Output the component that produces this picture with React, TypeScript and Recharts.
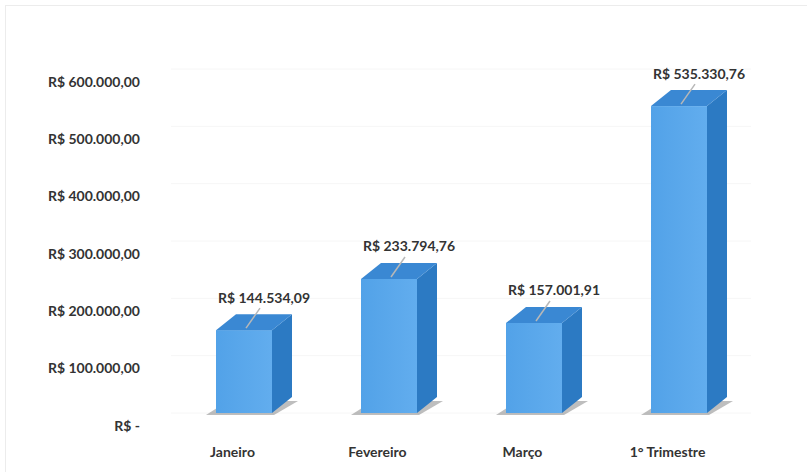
import React from "react";
import { BarChart, Bar, XAxis, YAxis, CartesianGrid, LabelList } from "recharts";

const categories = ["Janeiro", "Fevereiro", "Março", "1° Trimestre"];
const totals = [144534.09, 233794.76, 157001.91, 535330.76];
const yTicks = [0, 100000, 200000, 300000, 400000, 500000, 600000];

const data = categories.map((mes, i) => ({ mes, total: totals[i] }));

const FONT = "Lato, 'Open Sans', sans-serif";
const DX = 20;
const DY = 16;

const brl = (v: number) => {
  if (v === 0) return "R$ -";
  const [int, dec] = v.toFixed(2).split(".");
  return "R$ " + int.replace(/\B(?=(\d{3})+(?!\d))/g, ".") + "," + dec;
};

const Box3D = (props: any) => {
  const { x, y, width: w, height: h } = props;
  const b = y + h;
  return (
    <g>
      <defs>
        <linearGradient id="frontGrad" x1="0" y1="0" x2="1" y2="0">
          <stop offset="0%" stopColor="#52a2e8" />
          <stop offset="100%" stopColor="#62adee" />
        </linearGradient>
      </defs>
      <polygon
        points={`${x - 10},${b + 2} ${x + w + 2},${b + 2} ${x + w + DX + 6},${b - DY + 4} ${x + DX - 8},${b - DY + 4}`}
        fill="#444"
        opacity={0.35}
      />
      <rect x={x} y={y} width={w} height={h} fill="url(#frontGrad)" />
      <polygon
        points={`${x + w},${y} ${x + w + DX},${y - DY} ${x + w + DX},${b - DY} ${x + w},${b}`}
        fill="#2c7ac3"
      />
      <polygon
        points={`${x},${y} ${x + DX},${y - DY} ${x + w + DX},${y - DY} ${x + w},${y}`}
        fill="#3a88d3"
      />
    </g>
  );
};

const ValueLabel = (props: any) => {
  const { x, y, width, value } = props;
  const cx = x + width / 2;
  return (
    <g>
      <line x1={cx + 2} y1={y - 2} x2={cx + 16} y2={y - 22} stroke="#b8b8b8" strokeWidth={1.5} />
      <text
        x={cx + 20}
        y={y - 33}
        textAnchor="middle"
        dominantBaseline="central"
        fontFamily={FONT}
        fontWeight={700}
        fontSize={14}
        fill="#333"
      >
        {brl(value)}
      </text>
    </g>
  );
};

const YTick = (props: any) => {
  const { y, payload } = props;
  return (
    <text
      x={140}
      y={y + 12}
      textAnchor="end"
      dominantBaseline="central"
      fontFamily={FONT}
      fontWeight={700}
      fontSize={14}
      fill="#333"
    >
      {brl(payload.value)}
    </text>
  );
};

const XTick = (props: any) => {
  const { x, payload } = props;
  return (
    <text
      x={x - 11}
      y={451}
      textAnchor="middle"
      dominantBaseline="central"
      fontFamily={FONT}
      fontWeight={700}
      fontSize={14}
      fill="#333"
    >
      {payload.value}
    </text>
  );
};

export default function App() {
  return (
    <div
      style={{
        position: "absolute",
        left: 0,
        top: 0,
        width: 807,
        height: 472,
        background: "#fff",
      }}
    >
      <div
        style={{
          position: "absolute",
          left: 5,
          top: 5,
          width: 810,
          height: 480,
          border: "1px solid #ececec",
        }}
      />
      <BarChart
        width={807}
        height={472}
        data={data}
        margin={{ top: 69, right: 56, bottom: 19, left: 21 }}
      >
        <CartesianGrid vertical={false} stroke="#f6f6f6" />
        <XAxis dataKey="mes" axisLine={false} tickLine={false} height={40} tick={<XTick />} interval={0} />
        <YAxis
          domain={[0, 600000]}
          ticks={yTicks}
          axisLine={false}
          tickLine={false}
          width={150}
          tick={<YTick />}
        />
        <Bar dataKey="total" barSize={56} shape={<Box3D />} isAnimationActive={false}>
          <LabelList dataKey="total" content={<ValueLabel />} />
        </Bar>
      </BarChart>
    </div>
  );
}
